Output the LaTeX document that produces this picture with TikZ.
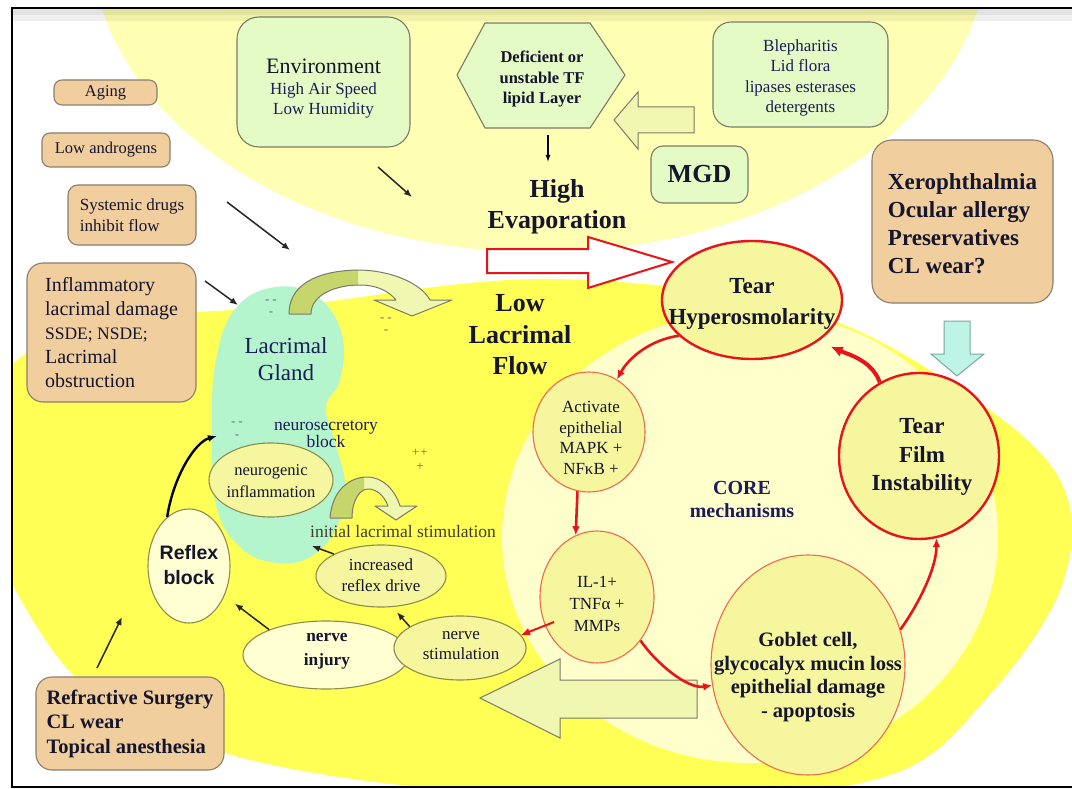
\documentclass[tikz,border=0pt]{standalone}
\usepackage{fontspec}
\setmainfont{Liberation Serif}
\newfontfamily\arialfont{Liberation Sans}
\usetikzlibrary{shapes.geometric,arrows.meta}
\definecolor{topyel}{HTML}{FFFFB4}
\definecolor{brightyel}{HTML}{FFFF55}
\definecolor{coreyel}{HTML}{FFFFCB}
\definecolor{mint}{HTML}{B4F5CD}
\definecolor{tanf}{HTML}{F1CE9D}
\definecolor{tanb}{HTML}{8C7E6E}
\definecolor{lgreen}{HTML}{E5FBC5}
\definecolor{gb}{HTML}{7A7A68}
\definecolor{nodeyel}{HTML}{F6F69E}
\definecolor{paleyel}{HTML}{FFFFD2}
\definecolor{myred}{HTML}{E8141C}
\definecolor{myorange}{HTML}{EF6A4E}
\definecolor{oliveb}{HTML}{8C8C50}
\definecolor{olivefill}{HTML}{C6D56C}
\definecolor{arrowpale}{HTML}{EFF7B0}
\definecolor{cyanf}{HTML}{BEF4E6}
\definecolor{cyanb}{HTML}{7AA8A0}
\definecolor{textc}{HTML}{15152E}
\definecolor{navyc}{HTML}{1C1C5A}
\definecolor{dashc}{HTML}{6A6A8A}
\newcommand{\myfs}[2]{\fontsize{#1}{#2}\selectfont}
\begin{document}
\begin{tikzpicture}[x=1pt, y=-1pt,
 txt/.style={text=textc, align=center, inner sep=0pt},
 tanbox/.style={draw=tanb, fill=tanf, line width=1.1pt, rounded corners=8pt, inner sep=0pt, text=textc},
 greenbox/.style={draw=gb, fill=lgreen, line width=1.1pt, rounded corners=16pt, inner sep=0pt},
 redell/.style={ellipse, draw=myred, line width=2.4pt, fill=nodeyel, inner sep=0pt},
 orell/.style={ellipse, draw=myorange, line width=1.1pt, fill=nodeyel, inner sep=0pt},
 olell/.style={ellipse, draw=oliveb, line width=1.1pt, fill=nodeyel, inner sep=0pt},
 blk/.style={-{Latex[length=8pt,width=6.5pt]}, line width=1.5pt, draw=black!85},
 redarr/.style={-{Latex[length=9pt,width=8pt]}, line width=2.6pt, draw=myred},
 dashtxt/.style={text=dashc, font=\myfs{13}{14}, inner sep=0pt},
 hollow/.style={draw=gb, fill=arrowpale, line width=1pt}
]
\useasboundingbox (0,0) rectangle (1072,789);
\fill[white] (0,0) rectangle (1072,789);
\begin{scope}
 \clip (12,8) rectangle (1075,787);
 \fill[topyel] (540,-60) ellipse [x radius=449, y radius=312];
 \fill[brightyel] plot[smooth cycle, tension=0.6] coordinates {(-30,455) (60,334) (300,305) (550,279) (800,310) (960,390) (1060,480) (1062,585) (985,700) (890,775) (700,796) (420,787) (200,745) (60,660)};
 \fill[coreyel] (750,537) ellipse [x radius=248, y radius=226];
 \fill[black, opacity=0.06] (12,9) rectangle (1075,21);
 \fill[black, opacity=0.05] (12,9) rectangle (1075,15);
\end{scope}
\draw[line width=2.6pt] (1080,8) -- (12,8) -- (12,787) -- (1080,787);

% lacrimal gland
\fill[mint] plot[smooth cycle, tension=0.7] coordinates {(276,287) (318,297) (342,335) (340,380) (326,407) (336,445) (345,485) (338,525) (312,556) (276,563) (240,547) (216,505) (212,430) (216,360) (236,308)};
\coordinate (glandL) at (217,436);
\coordinate (glandT) at (290,250);

% big arch arrow
\def\bigarch{(289,314) .. controls (289,278) and (330,270) .. (360,270) .. controls (395,271) and (422,285) .. (430,300) -- (452,300) -- (412,316) -- (374,300) -- (396,300) .. controls (388,290) and (375,285) .. (360,285) .. controls (335,285) and (311,295) .. (311,314) -- cycle}
\fill[arrowpale] \bigarch;
\begin{scope}\clip (200,250) rectangle (358,330); \fill[olivefill] \bigarch; \end{scope}
\draw[gb, line width=1pt, line join=round] \bigarch;
% small arch arrow
\def\smallarch{(330,518) .. controls (332,490) and (350,477) .. (367,477) .. controls (383,477) and (395,490) .. (400,506) -- (417,506) -- (396,520) -- (375,506) -- (388,506) .. controls (384,495) and (376,489) .. (368,489) .. controls (360,489) and (352,500) .. (352,518) -- cycle}
\fill[arrowpale] \smallarch;
\begin{scope}\clip (300,460) rectangle (364,530); \fill[olivefill] \smallarch; \end{scope}
\draw[gb, line width=1pt, line join=round] \smallarch;

% dashes
\node[dashtxt] at (271,302) {-\hspace{3pt}-};
\node[dashtxt] at (271,314) {-};
\node[dashtxt] at (386,320) {-\hspace{3pt}-};
\node[dashtxt] at (386,332) {-};
\node[dashtxt] at (237,424) {-\hspace{3pt}-};
\node[dashtxt] at (237,437) {-};
\node[dashtxt] at (420,453) {+\hspace{1pt}+};
\node[dashtxt] at (420,467) {+};

% left tan boxes
\node[tanbox, minimum width=103pt, minimum height=25pt, font=\myfs{16.5}{20}] (aging) at (105.5,92.5) {Aging};
\node[tanbox, minimum width=128pt, minimum height=34pt, font=\myfs{16.5}{20}] (andro) at (106,150) {Low androgens};
\node[tanbox, rounded corners=10pt, minimum width=128pt, minimum height=60pt, align=left, font=\myfs{17}{21.5}] (sys) at (132,215) {Systemic drugs\\inhibit flow};
\node[tanbox, rounded corners=16pt, minimum width=169pt, minimum height=139pt, align=left, font=\myfs{20}{24}] (infl) at (111.5,332.5) {Inflammatory\\lacrimal damage\\{\myfs{17.5}{24}SSDE; NSDE;}\\Lacrimal\\obstruction};
\node[tanbox, rounded corners=16pt, minimum width=188pt, minimum height=93pt, align=left, font=\myfs{20.5}{24.5}\bfseries] (refr) at (130,723.5) {Refractive Surgery\\CL wear\\Topical anesthesia};
\node[tanbox, rounded corners=20pt, minimum width=181pt, minimum height=163pt, font=\myfs{23}{28}\bfseries] (xero) at (962.5,221.5) {};
\node[txt, align=left, font=\myfs{23}{28}\bfseries] (xerot) at (962.5,224) {Xerophthalmia\\Ocular allergy\\Preservatives\\CL wear?};

% top green boxes
\node[greenbox, rounded corners=22pt, minimum width=173pt, minimum height=130pt] (env) at (323.5,82) {};
\node[txt, font=\myfs{17}{20.5}, text=navyc] (envt) at (323.5,89) {{\myfs{22}{24}\color{textc}Environment}\\High Air Speed\\Low Humidity};
\draw[gb, fill=lgreen, line width=1.1pt, line join=round] (457,75) -- (485,23) -- (590,23) -- (625,75) -- (590,128) -- (485,128) -- cycle;
\node[txt, font=\myfs{16.5}{20.5}\bfseries] (hex) at (542,79) {Deficient or\\unstable TF\\lipid Layer};
\node[greenbox, rounded corners=18pt, minimum width=175pt, minimum height=105pt] (bleph) at (800.5,74.5) {};
\node[txt, font=\myfs{17}{20.5}, text=navyc] (blepht) at (800.5,78) {Blepharitis\\Lid flora\\lipases esterases\\detergents};
\node[greenbox, rounded corners=12pt, minimum width=97pt, minimum height=57pt, font=\myfs{26}{28}\bfseries, text=textc] (mgd) at (699.5,174.5) {MGD};
\draw[hollow] (694,107) -- (638,107) -- (638,92) -- (614,120) -- (638,149) -- (638,133) -- (694,133) -- cycle;

\node[txt, font=\myfs{26}{31}\bfseries] (hev) at (557,207) {High\\Evaporation};
\node[txt, font=\myfs{26}{31.5}\bfseries] (llf) at (520,335) {Low\\Lacrimal\\Flow};

% big red hollow arrow
\draw[myred, line width=2pt, fill=white, line join=miter] (487,249) -- (588,249) -- (588,237) -- (672,262) -- (588,288) -- (588,273) -- (487,273) -- cycle;
% cyan arrow
\draw[cyanb, fill=cyanf, line width=1pt] (944,321) -- (970,321) -- (970,354) -- (984,354) -- (957,376) -- (931,354) -- (944,354) -- cycle;
% bottom hollow arrow
\draw[hollow] (697,680) -- (560,680) -- (560,659) -- (480,698) -- (560,738) -- (560,718) -- (697,718) -- cycle;

% core ellipses
\node[redell, minimum width=180pt, minimum height=118pt] (th) at (752,300) {};
\node[txt, font=\myfs{23}{31}\bfseries] at (752,304) {Tear\\Hyperosmolarity};
\node[redell, minimum width=160pt, minimum height=166pt] (tf) at (919,456) {};
\node[txt, font=\myfs{23}{28.5}\bfseries] at (922,457) {Tear\\Film\\Instability};
\node[orell, minimum width=112pt, minimum height=120pt] (act) at (589,432) {};
\node[txt, font=\myfs{17}{20.5}] at (591,438) {Activate\\epithelial\\MAPK +\\NF\char"03BA B +};
\node[txt, font=\myfs{20}{23}\bfseries, text=navyc] (core) at (742,499) {CORE\\mechanisms};
\node[orell, minimum width=114pt, minimum height=132pt] (il) at (597,597) {};
\node[txt, font=\myfs{17}{22}] at (597,604) {IL-1+\\TNF\char"03B1{} +\\MMPs};
\node[orell, minimum width=194pt, minimum height=220pt] (gob) at (808,665) {};
\node[txt, font=\myfs{20.5}{23.5}\bfseries] at (808,677) {Goblet cell,\\glycocalyx mucin loss\\epithelial damage\\- apoptosis};

% lacrimal side
\node[txt, font=\myfs{23}{27}, text=navyc] (lg) at (286,359) {Lacrimal\\Gland};
\node[txt, font=\myfs{17.5}{17.5}, text=navyc] (nsb) at (326,434) {neurosecretory\\block};
\node[olell, minimum width=124pt, minimum height=74pt] (ng) at (271,480) {};
\node[txt, font=\myfs{16.5}{22}] at (271,481) {neurogenic\\inflammation};
\node[txt, font=\myfs{17.5}{20}, text=black!70!olive] (ils) at (403,532) {initial lacrimal stimulation};
\node[olell, minimum width=130pt, minimum height=62pt] (irr) at (381,576) {};
\node[txt, font=\myfs{17}{21}] at (381,575) {increased\\reflex drive};
\node[olell, fill=paleyel, minimum width=166pt, minimum height=68pt] (ni) at (326,655) {};
\node[txt, font=\myfs{17.3}{24}\bfseries] at (327,651) {nerve\\injury};
\node[olell, minimum width=132pt, minimum height=64pt] (ns) at (460,648) {};
\node[txt, font=\myfs{17}{20}] at (461,646) {nerve\\stimulation};
\node[olell, fill=paleyel, minimum width=82pt, minimum height=114pt] (rb) at (189,566) {};
\node[txt, font=\arialfont\bfseries\myfs{19.5}{25}] at (189,565) {Reflex\\block};

% black arrows
\coordinate (envA) at (378,167); \coordinate (envB) at (412,197);
\draw[blk] (envA) -- (envB);
\coordinate (sysA) at (227,202);
\draw[blk] (sysA) -- (glandT);
\coordinate (inflA) at (205,281); \coordinate (inflB) at (238,305);
\draw[blk] (inflA) -- (inflB);
\coordinate (hexB) at (548,135); \coordinate (hevT) at (548,162);
\draw[-{Latex[length=7pt,width=5pt]}, line width=1.3pt] (hexB) -- (hevT);
\draw[blk, shorten >=7pt] (ns.157) -- (irr.290);
\coordinate (ilsA) at (312,546);
\draw[blk] (irr.155) -- (ilsA);
\draw[blk, shorten >=13pt] (ni.156) -- (rb.320);
\coordinate (refA) at (97,668); \coordinate (refB) at (122,617);
\draw[blk] (refA) -- (refB);
\draw[-{Latex[length=9pt,width=7pt]}, line width=2.4pt] (rb.114) .. controls +(6,-40) and +(-22,6) .. (glandL);

% red arrows
\draw[redarr] (th.206) .. controls +(-28,4) and +(12,-22) .. (act.62);
\draw[redarr] (act.259) -- (il.109);
\draw[redarr] (il.315) .. controls +(15,22) and +(-25,4) .. (gob.192);
\draw[redarr, line width=2pt] ([shift={(12,5)}]il.200) -- (ns.12);
\draw[redarr] (gob.21) .. controls +(18,-25) and +(0,30) .. (tf.282);
\draw[redarr, line width=4pt, -{Latex[length=12pt,width=11pt]}] (tf.118) .. controls +(-8,-22) and +(18,8) .. ([shift={(10,7)}]th.330);
\end{tikzpicture}
\end{document}
